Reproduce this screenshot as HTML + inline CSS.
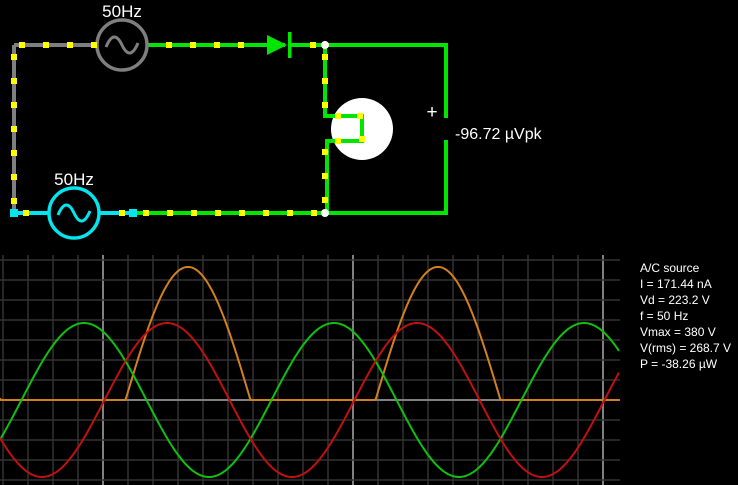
<!DOCTYPE html>
<html><head><meta charset="utf-8"><style>
html,body{margin:0;padding:0;background:#000;width:738px;height:485px;overflow:hidden}
svg{display:block}
text{font-family:"Liberation Sans",sans-serif}
</style></head><body>
<svg id="s" width="738" height="485" viewBox="0 0 738 485" xmlns="http://www.w3.org/2000/svg">
<g id="grid"></g>
<g fill="none" stroke-width="4">
<path d="M14 45H97 M14 45V213" stroke="#7f7f7f"/>
<path d="M148 45H285 M290 45H446V118 M446 140V213H325 M325 45V116H362V141H327V213 M133 213H325" stroke="#00e600"/>
<path d="M14 213H49 M99 213H133" stroke="#00e5ee"/>
</g>
<circle cx="122" cy="45" r="25" fill="none" stroke="#7f7f7f" stroke-width="3.5"/>
<path d="M106 47 Q114 28 122 45 T138 43" fill="none" stroke="#7f7f7f" stroke-width="3"/>
<circle cx="74" cy="213" r="25" fill="none" stroke="#00e5ee" stroke-width="3.5"/>
<path d="M58 215 Q66 196 74 213 T90 211" fill="none" stroke="#00e5ee" stroke-width="3"/>
<polygon points="267,35 267,55 287,45" fill="#00e600"/>
<rect x="288" y="32" width="3.5" height="26" fill="#00e600"/>
<circle cx="362" cy="129" r="31" fill="#fff"/>
<path d="M325 116H362V141H327" fill="none" stroke="#00e600" stroke-width="4"/>
<circle cx="325" cy="45" r="4" fill="#fff"/>
<circle cx="325" cy="213" r="4" fill="#fff"/>
<rect x="10" y="209" width="8" height="8" fill="#00e5ee"/>
<rect x="129" y="209" width="8" height="8" fill="#00e5ee"/>
<g id="dots" fill="#ffff00"></g>
<text x="122" y="17" fill="#fff" font-size="17" text-anchor="middle">50Hz</text>
<text x="74" y="185" fill="#fff" font-size="17" text-anchor="middle">50Hz</text>
<text x="432" y="118" fill="#fff" font-size="19" text-anchor="middle">+</text>
<text x="455" y="139" fill="#fff" font-size="16">-96.72 µVpk</text>
<g fill="#fff" font-size="12">
<text x="640" y="272">A/C source</text>
<text x="640" y="288">I = 171.44 nA</text>
<text x="640" y="304">Vd = 223.2 V</text>
<text x="640" y="320">f = 50 Hz</text>
<text x="640" y="336">Vmax = 380 V</text>
<text x="640" y="352">V(rms) = 268.7 V</text>
<text x="640" y="368">P = -38.26 µW</text>
</g>
<g id="waves" fill="none" stroke-width="2"></g>
</svg>
<script>
var NS="http://www.w3.org/2000/svg";
function el(p,t,a){var e=document.createElementNS(NS,t);for(var k in a)e.setAttribute(k,a[k]);document.getElementById(p).appendChild(e);}
for(var x=3;x<=620;x+=25){var b=((x-103)%250===0);el("grid","line",{x1:x,y1:255,x2:x,y2:485,stroke:b?"#808080":"#333",'stroke-width':b?2:1.5});}
for(var y=260;y<=485;y+=20){el("grid","line",{x1:0,y1:y,x2:620,y2:y,stroke:"#333",'stroke-width':1.5});}
el("grid","line",{x1:0,y1:400,x2:620,y2:400,stroke:"#808080",'stroke-width':2});
var A=77,P=250;
function v(x,pk){return A*Math.cos(2*Math.PI*(x-pk)/P);}
var g="",r="",o="";
for(var x=0;x<=619;x+=1){var vg=v(x,84),vr=v(x,167),d=Math.max(0,vr-vg);
g+=(x?"L":"M")+x+" "+(400-vg).toFixed(1);r+=(x?"L":"M")+x+" "+(400-vr).toFixed(1);o+=(x?"L":"M")+x+" "+(400-d).toFixed(1);}
el("waves","path",{d:o,stroke:"#d2801e"});
el("waves","path",{d:g,stroke:"#10c010"});
el("waves","path",{d:r,stroke:"#c01010"});
var dots=[];
for(var x=22;x<97;x+=24)dots.push([x,45]);
for(var y=57;y<213;y+=24)dots.push([14,y]);
for(var x=169;x<265;x+=24)dots.push([x,45]);
dots.push([313,45]);
for(var y=57;y<116;y+=24)dots.push([325,y]);
dots.push([338,116],[360,116],[362,139],[338,141]);
for(var y=152;y<213;y+=24)dots.push([325,y]);
dots.push([26,213],[122,213]);
for(var x=146;x<325;x+=24)dots.push([x,213]);
dots.forEach(function(p){el("dots","rect",{x:p[0]-3,y:p[1]-3,width:6,height:6});});
</script>
</body></html>
